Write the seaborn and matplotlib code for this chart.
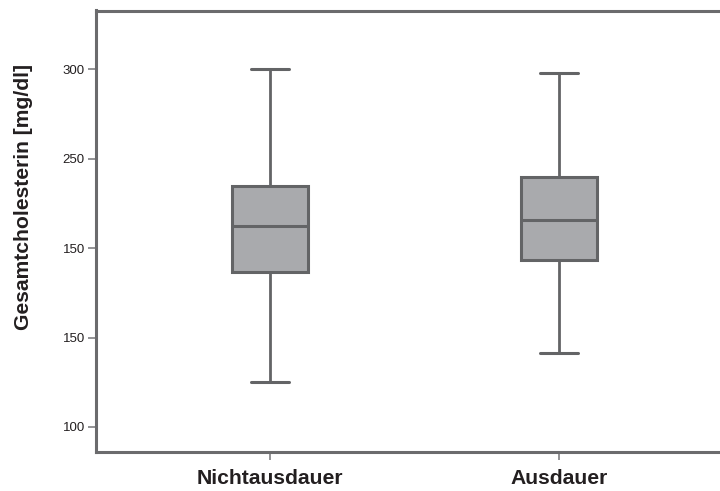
import matplotlib
matplotlib.use("Agg")
import matplotlib.pyplot as plt
import seaborn as sns
import pandas as pd

# Five-number summaries per group (min, Q1, median, Q3, max) in mg/dl
groups = ["Nichtausdauer", "Ausdauer"]
nichtausdauer = [125.3, 186.5, 212.3, 234.5, 300.0]
ausdauer = [141.5, 193.6, 215.5, 239.7, 298.2]

y_ticks = [100, 150, 200, 250, 300]
y_tick_labels = ["100", "150", "150", "250", "300"]
y_label = "Gesamtcholesterin [mg/dl]"

df = pd.DataFrame({
    "Gruppe": [groups[0]] * len(nichtausdauer) + [groups[1]] * len(ausdauer),
    "Wert": nichtausdauer + ausdauer,
})

sns.set_style("white")
plt.rcParams["font.family"] = ["Liberation Sans", "DejaVu Sans"]

line_col = "#636466"
fill_col = "#a9aaad"
spine_col = "#6b6b6d"
text_col = "#231f20"

fig = plt.figure(figsize=(7.2, 4.91), dpi=100)
ax = fig.add_axes([96 / 720, 1 - 452 / 491, 1 - 96 / 720, (452 - 10.5) / 491])

sns.boxplot(
    data=df, x="Gruppe", y="Wert", order=groups, ax=ax,
    width=0.26, whis=(0, 100), color=fill_col, saturation=1,
    linecolor=line_col, linewidth=2.2, showfliers=False,
    medianprops=dict(color=line_col, linewidth=2.2),
    whiskerprops=dict(color=line_col, linewidth=2.0),
    capprops=dict(color=line_col, linewidth=2.2),
)

ax.set_xlim(-0.602, 1.557)
ax.set_ylim(86, 332.9)
ax.set_yticks(y_ticks)
ax.set_yticklabels(y_tick_labels)
ax.set_xlabel("")
ax.set_ylabel(y_label, fontsize=15.2, fontweight="bold", color=text_col)
ax.yaxis.set_label_coords(-0.101, 0.578)

for lbl in ax.get_xticklabels():
    lbl.set_fontweight("bold")
    lbl.set_fontsize(15.2)
    lbl.set_color(text_col)
ax.tick_params(axis="y", labelsize=9.5, labelcolor=text_col, length=6,
               width=1.3, color="#8a8a8c", left=True, pad=2)
ax.tick_params(axis="x", length=6, width=1.3, color="#8a8a8c", bottom=True, pad=6.5)

for side in ["left", "top", "bottom"]:
    ax.spines[side].set_visible(True)
    ax.spines[side].set_color(spine_col)
    ax.spines[side].set_linewidth(2.2)
ax.spines["right"].set_visible(False)

fig.savefig("out.png", dpi=100)
